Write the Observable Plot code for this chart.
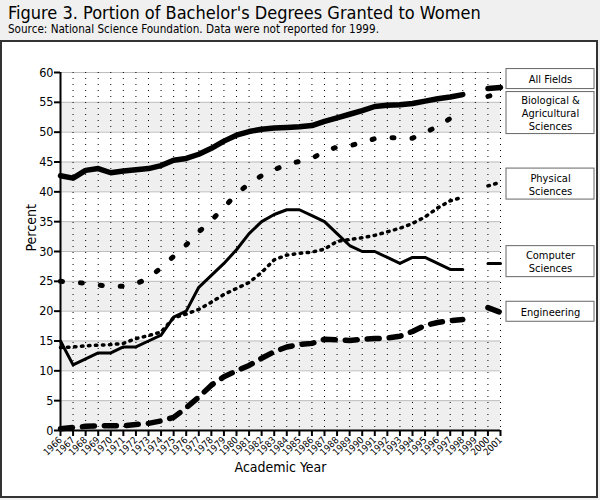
<!DOCTYPE html>
<html>
<head>
<meta charset="utf-8">
<script src="https://cdn.jsdelivr.net/npm/d3@7"></script>
<script src="https://cdn.jsdelivr.net/npm/@observablehq/plot@0.6"></script>
<style>
  html, body { margin: 0; padding: 0; }
  body { width: 600px; height: 500px; background: #f0f0f0; position: relative; overflow: hidden;
         font-family: "DejaVu Sans Condensed", "DejaVu Sans", sans-serif; color: #000; }
  #title { position: absolute; left: 8px; top: 2px; font-size: 18px; white-space: nowrap; }
  #subtitle { position: absolute; left: 8px; top: 22px; font-size: 11.6px; white-space: nowrap; }
  #panel { position: absolute; left: 0; top: 40px; width: 594px; height: 454px;
           border: 2px solid #333; background: #fff; }
  #panel svg { display: block; }
</style>
</head>
<body>
<div id="title">Figure 3. Portion of Bachelor's Degrees Granted to Women</div>
<div id="subtitle">Source: National Science Foundation. Data were not reported for 1999.</div>
<div id="panel"></div>
<script>
const years = [1966,1967,1968,1969,1970,1971,1972,1973,1974,1975,1976,1977,1978,1979,1980,1981,1982,1983,
  1984,1985,1986,1987,1988,1989,1990,1991,1992,1993,1994,1995,1996,1997,1998,1999,2000,2001];

// null = not reported (1999)
const allFields = [42.7,42.3,43.6,43.9,43.2,43.5,43.7,43.9,44.4,45.3,45.6,46.3,47.3,48.5,49.5,50.1,50.5,50.7,
  50.8,50.9,51.1,51.8,52.4,53.0,53.6,54.3,54.5,54.6,54.8,55.2,55.6,55.9,56.3,null,57.3,57.5];
const bioAg = [25.0,24.8,24.7,24.4,24.1,24.2,24.6,25.5,27.3,29.2,31.1,33.3,35.2,37.4,39.6,41.4,42.7,43.7,
  44.6,45.1,45.6,46.8,47.5,47.7,48.3,48.9,49.1,49.0,49.0,49.9,51.0,52.3,53.0,null,56.0,56.5];
const physical = [13.9,14.0,14.2,14.3,14.4,14.6,15.4,15.9,16.5,18.9,19.5,20.3,21.5,22.8,23.8,24.8,26.5,28.6,
  29.4,29.7,29.9,30.4,31.7,32.0,32.3,32.7,33.3,33.9,34.7,35.8,37.3,38.5,39.1,null,41.0,41.6];
const computer = [15,11,12,13,13,14,14,15,16,19,20,24,26,28,30.3,33,35,36.2,
  37,37,36,35,33,31,30,30,29,28,29,29,28,27,27,null,28,28];
const engineering = [0.3,0.5,0.7,0.8,0.8,0.8,1.0,1.2,1.6,2.2,3.8,5.6,7.6,9.0,10.0,10.9,12.1,13.2,
  14.0,14.4,14.6,15.3,15.2,15.1,15.3,15.4,15.5,15.8,16.6,17.6,18.1,18.4,18.6,null,20.6,19.8];

const seriesNames = ["All Fields", "Biological &\nAgricultural\nSciences", "Physical\nSciences", "Computer\nSciences", "Engineering"];
const seriesValues = [allFields, bioAg, physical, computer, engineering];
const yTicks = [0,5,10,15,20,25,30,35,40,45,50,55,60];

// styles (not data)
const styles = [
  {strokeWidth: 5.5},
  {strokeWidth: 5, strokeDasharray: "2,18", strokeLinecap: "round"},
  {strokeWidth: 3.5, strokeDasharray: "1.5,5.5", strokeLinecap: "round"},
  {strokeWidth: 3},
  {strokeWidth: 5.5, strokeDasharray: "12,10", strokeLinecap: "round"}
];
const legendNudge = [1.4, -3.3, -0.3, 0.3, 0.1];

const W = 594, H = 454, mL = 58, mR = 96, mT = 30, mB = 66;
const xDom = [1966, 2001], yDom = [0, 60];
const pxPerYear = (W - mL - mR) / (xDom[1] - xDom[0]);
const pxPerUnit = (H - mT - mB) / (yDom[1] - yDom[0]);

const rows = years.map((yr, i) => {
  const r = {year: yr};
  seriesValues.forEach((vals, k) => r["s" + k] = vals[i]);
  return r;
});

const legend = seriesNames.map((name, k) => {
  const vals = seriesValues[k];
  const last = vals[vals.length - 1];
  const lines = name.split("\n").length;
  const c = last + legendNudge[k];
  const half = (9 + 11 * lines) / 2 / pxPerUnit;
  return {name, y: c, y1: c - half, y2: c + half};
});
const boxX1 = xDom[1] + 6 / pxPerYear, boxX2 = xDom[1] + 94 / pxPerYear;

const font = '"DejaVu Sans Condensed", "DejaVu Sans", sans-serif';
const band = yTicks.filter((d, i) => i % 2 === 0 && d < 60);

const lineMarks = seriesValues.map((_, k) => Plot.line(rows, {
  x: "year", y: "s" + k, stroke: "#000", strokeLinejoin: "round", curve: "linear", ...styles[k]
}));

const chart = Plot.plot({
  width: W, height: H,
  marginLeft: mL, marginRight: mR, marginTop: mT, marginBottom: mB,
  style: {fontFamily: font, background: "#fff", overflow: "visible", color: "#000"},
  x: {domain: xDom},
  y: {domain: yDom},
  marks: [
    Plot.rect(band, {y1: d => d, y2: d => d + 5, fill: "#efefef"}),
    Plot.ruleY(yTicks, {stroke: "#bdbdbd", strokeWidth: 1}),
    Plot.ruleX(years.slice(1), {stroke: "#000", strokeWidth: 1, strokeDasharray: "1,5"}),
    Plot.axisY({ticks: yTicks, tickSize: 6, tickPadding: 1, strokeWidth: 2, fontSize: 12.5, label: null}),
    Plot.axisX({ticks: years, tickFormat: d => String(d), tickRotate: -45, tickSize: 6, tickPadding: 2,
                strokeWidth: 2, fontSize: 9.5, label: null}),
    Plot.ruleX([1966], {stroke: "#000", strokeWidth: 2}),
    Plot.ruleY([0], {stroke: "#000", strokeWidth: 2}),
    ...lineMarks,
    Plot.text(["Percent"], {frameAnchor: "left", dx: -29, rotate: -90, fontSize: 14, lineAnchor: "middle"}),
    Plot.text(["Academic Year"], {frameAnchor: "bottom", dy: 37, fontSize: 14, lineAnchor: "middle"}),
    Plot.rect(legend, {x1: boxX1, x2: boxX2, y1: "y1", y2: "y2",
      fill: "#fff", stroke: "#666", strokeWidth: 1}),
    Plot.text(legend, {x: (boxX1 + boxX2) / 2, y: "y", text: "name", fontSize: 11, lineHeight: 1.2,
      lineAnchor: "middle", fill: "#000"})
  ]
});
document.getElementById("panel").appendChild(chart);
</script>
</body>
</html>
